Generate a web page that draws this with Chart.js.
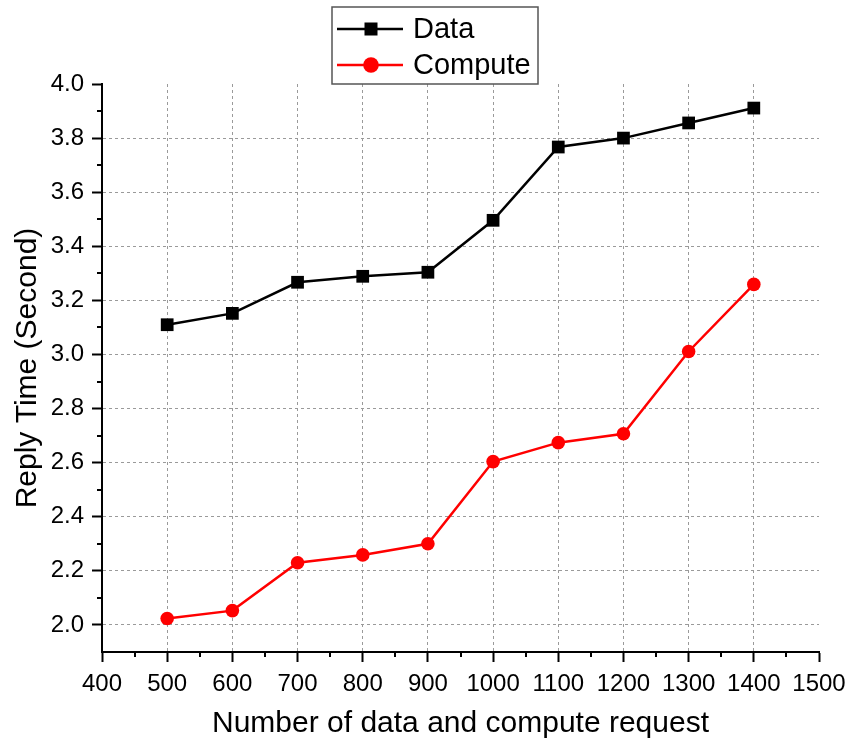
<!DOCTYPE html>
<html>
<head>
<meta charset="utf-8">
<script src="https://cdn.jsdelivr.net/npm/chart.js@4/dist/chart.umd.min.js"></script>
<style>
  body { margin: 0; background: #fff; }
  #wrap { width: 849px; height: 742px; position: relative; }
</style>
</head>
<body>
<div id="wrap"><canvas id="line"></canvas></div>
<script>
// data
const requests = [500, 600, 700, 800, 900, 1000, 1100, 1200, 1300, 1400];
const dataTime = [3.11, 3.152, 3.267, 3.289, 3.304, 3.496, 3.767, 3.80, 3.856, 3.911];
const computeTime = [2.024, 2.053, 2.230, 2.259, 2.300, 2.604, 2.674, 2.707, 3.011, 3.259];

const xTicks = [400, 500, 600, 700, 800, 900, 1000, 1100, 1200, 1300, 1400, 1500];
const yTicks = [2.0, 2.2, 2.4, 2.6, 2.8, 3.0, 3.2, 3.4, 3.6, 3.8, 4.0];
const xMinor = [450, 550, 650, 750, 850, 950, 1050, 1150, 1250, 1350, 1450];
const yMinor = [2.1, 2.3, 2.5, 2.7, 2.9, 3.1, 3.3, 3.5, 3.7, 3.9];

const FONT = "'Liberation Sans', Arial, sans-serif";

// small outward ticks between the labelled ones
const minorTicks = {
  id: 'minorTicks',
  afterDraw(chart) {
    const { ctx, scales: { x, y } } = chart;
    ctx.save();
    ctx.strokeStyle = '#000';
    ctx.lineWidth = 2;
    xMinor.forEach(v => {
      const px = Math.round(x.getPixelForValue(v));
      ctx.beginPath();
      ctx.moveTo(px, x.top);
      ctx.lineTo(px, x.top + 5);
      ctx.stroke();
    });
    yMinor.forEach(v => {
      const py = Math.round(y.getPixelForValue(v));
      ctx.beginPath();
      ctx.moveTo(y.right, py);
      ctx.lineTo(y.right - 5, py);
      ctx.stroke();
    });
    ctx.restore();
  }
};

// boxed legend, one series per row
const boxLegend = {
  id: 'boxLegend',
  afterDraw(chart) {
    const ctx = chart.ctx;
    const left = 332, top = 7, w = 206, h = 77;
    ctx.save();
    ctx.strokeStyle = '#555';
    ctx.lineWidth = 1.5;
    ctx.strokeRect(left, top, w, h);
    const rows = [29, 65];
    chart.data.datasets.forEach((ds, i) => {
      const cy = rows[i];
      ctx.strokeStyle = ds.borderColor;
      ctx.fillStyle = ds.borderColor;
      ctx.lineWidth = 2.5;
      ctx.beginPath();
      ctx.moveTo(337, cy);
      ctx.lineTo(403, cy);
      ctx.stroke();
      if (ds.pointStyle === 'rect') {
        ctx.fillRect(371 - 6.5, cy - 6.5, 13, 13);
      } else {
        ctx.beginPath();
        ctx.arc(371, cy, 7.8, 0, Math.PI * 2);
        ctx.fill();
      }
      ctx.fillStyle = '#000';
      ctx.font = '29px ' + FONT;
      ctx.textBaseline = 'middle';
      ctx.textAlign = 'left';
      ctx.fillText(ds.label, 413, cy + 1);
    });
    ctx.restore();
  }
};

new Chart(document.getElementById('line'), {
  type: 'line',
  data: {
    datasets: [
      {
        label: 'Data',
        data: requests.map((r, i) => ({ x: r, y: dataTime[i] })),
        borderColor: '#000',
        backgroundColor: '#000',
        borderWidth: 2.5,
        pointStyle: 'rect',
        pointRadius: 9,
        pointBorderWidth: 0,
        tension: 0
      },
      {
        label: 'Compute',
        data: requests.map((r, i) => ({ x: r, y: computeTime[i] })),
        borderColor: '#ff0000',
        backgroundColor: '#ff0000',
        borderWidth: 2.5,
        pointStyle: 'circle',
        pointRadius: 6.8,
        pointBorderWidth: 0,
        tension: 0
      }
    ]
  },
  options: {
    responsive: true,
    maintainAspectRatio: false,
    animation: false,
    layout: { padding: { left: 0, top: 84, right: 30, bottom: 0 } },
    plugins: {
      legend: { display: false },
      tooltip: { enabled: false }
    },
    scales: {
      x: {
        type: 'linear',
        min: 400,
        max: 1500,
        afterBuildTicks: s => { s.ticks = xTicks.map(v => ({ value: v })); },
        afterFit: s => { s.height = 90; s.paddingLeft = 0; s.paddingRight = 0; },
        ticks: {
          color: '#000',
          font: { family: FONT, size: 24 },
          padding: 8,
          maxRotation: 0,
          callback: v => String(v)
        },
        grid: {
          drawTicks: true,
          tickLength: 10,
          tickWidth: 2,
          tickColor: '#000',
          lineWidth: 1,
          color: c => (c.tick && c.tick.value > 400 && c.tick.value < 1500) ? '#9a9a9a' : 'rgba(0,0,0,0)'
        },
        border: { display: true, color: '#000', width: 2, dash: [3, 3] },
        title: {
          display: true,
          text: 'Number of data and compute request',
          color: '#000',
          font: { family: FONT, size: 30 },
          padding: { top: 2, bottom: 0 }
        }
      },
      y: {
        type: 'linear',
        min: 1.9,
        max: 4.0,
        afterBuildTicks: s => { s.ticks = yTicks.map(v => ({ value: v })); },
        afterFit: s => { s.width = 102; },
        ticks: {
          color: '#000',
          font: { family: FONT, size: 24 },
          padding: 8,
          callback: v => Number(v).toFixed(1)
        },
        grid: {
          drawTicks: true,
          tickLength: 10,
          tickWidth: 2,
          tickColor: '#000',
          lineWidth: 1,
          color: c => (c.tick && c.tick.value < 3.95) ? '#9a9a9a' : 'rgba(0,0,0,0)'
        },
        border: { display: true, color: '#000', width: 2, dash: [3, 3] },
        title: {
          display: true,
          text: 'Reply Time (Second)',
          color: '#000',
          font: { family: FONT, size: 30 },
          padding: { top: 10, bottom: 0 }
        }
      }
    }
  },
  plugins: [minorTicks, boxLegend]
});
</script>
</body>
</html>
